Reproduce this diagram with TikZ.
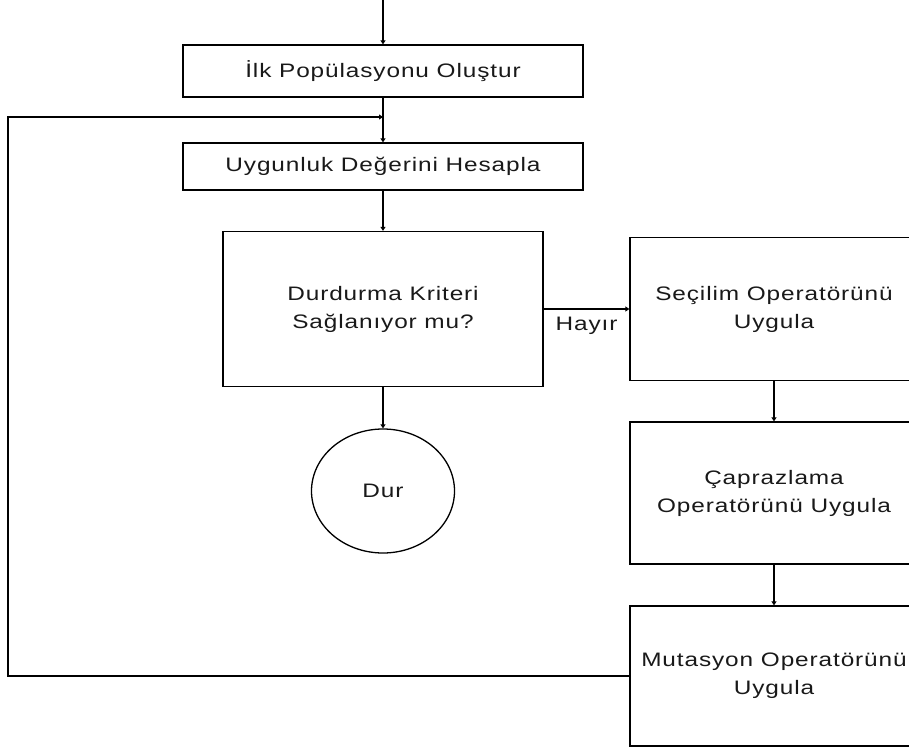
\documentclass[tikz,border=0pt]{standalone}
\usepackage{fontspec}
\setmainfont{Liberation Sans}[FakeStretch=1.25,LetterSpace=4.6]
\usetikzlibrary{shapes.geometric, arrows.meta, calc}

\begin{document}
\begin{tikzpicture}[x=1pt,y=-1pt,
  box/.style={draw, line width=1.3pt, align=center, inner sep=0pt,
    text=black!90, font=\fontsize{19.5}{28}\selectfont},
  arr/.style={line width=1.3pt, -{Triangle[length=4pt,width=5pt]}}]
\useasboundingbox (0,0) rectangle (909,751);
\clip (0,0) rectangle (909,751);
% main column
\coordinate (start) at (383,0);
\node[box, minimum width=400pt, minimum height=52pt] (init) at (383,71) {İlk Popülasyonu Oluştur};
\node[box, minimum width=400pt, minimum height=47pt] (fitness) at (383,166.5) {Uygunluk Değerini Hesapla};
\node[box, minimum width=320pt, minimum height=155pt] (check) at (383,309) {Durdurma Kriteri\\Sağlanıyor mu?};
\node[box, ellipse, minimum width=143pt, minimum height=124pt] (stop) at (383,491) {Dur};
% right column
\node[box, minimum width=288pt, minimum height=143pt] (select) at (774,309) {Seçilim Operatörünü\\Uygula};
\node[box, minimum width=288pt, minimum height=142pt] (cross) at (774,493) {Çaprazlama\\Operatörünü Uygula};
\node[box, minimum width=288pt, minimum height=140pt] (mut) at (774,676) {Mutasyon Operatörünü\\Uygula};
% connectors
\coordinate (back) at (8,117);
\coordinate (join) at (init.south |- back);
\draw[arr] (start) -- (init);
\draw[arr] (init) -- (fitness);
\draw[arr] (fitness) -- (check);
\draw[arr] (check) -- (stop);
\draw[arr] (check.east) -- (select.west)
  node[midway, below=4pt, text=black!90, font=\fontsize{19.5}{28}\selectfont] (no) {Hayır};
\draw[arr] (select) -- (cross);
\draw[arr] (cross) -- (mut);
\draw[arr] (mut.west) -| (back) -- (join);
\end{tikzpicture}
\end{document}
